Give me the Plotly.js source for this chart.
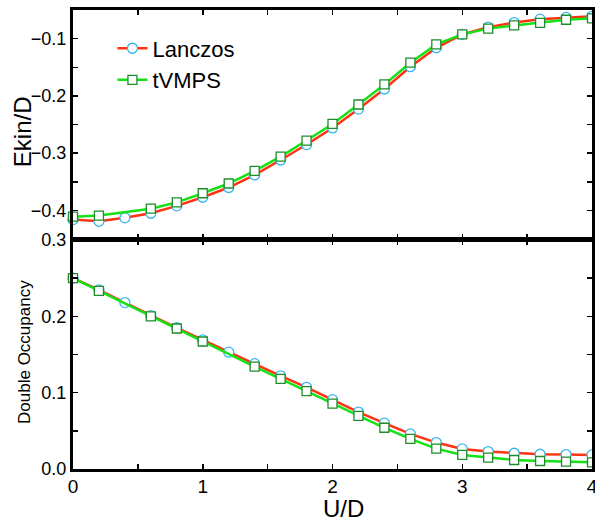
<!DOCTYPE html>
<html>
<head>
<meta charset="utf-8">
<script src="https://cdn.plot.ly/plotly-3.0.1.min.js"></script>
<style>html,body{margin:0;padding:0;background:#fff;}#chart{width:595px;height:525px;}</style>
</head>
<body>
<div id="chart"></div>
<script>
// U/D values
const uLanczos = [0,0.2,0.4,0.6,0.8,1.0,1.2,1.4,1.6,1.8,2.0,2.2,2.4,2.6,2.8,3.0,3.2,3.4,3.6,3.8,4.0];
const uTvmpsEkin = [0,0.2,0.6,0.8,1.0,1.2,1.4,1.6,1.8,2.0,2.2,2.4,2.6,2.8,3.0,3.2,3.4,3.6,3.8,4.0];
const uTvmpsDocc = [0,0.2,0.6,0.8,1.0,1.4,1.6,1.8,2.0,2.2,2.4,2.6,2.8,3.0,3.2,3.4,3.6,3.8,4.0];

// Kinetic energy Ekin/D
const ekinLanczos = [-0.416,-0.419,-0.413,-0.405,-0.392,-0.377,-0.360,-0.338,-0.312,-0.285,-0.256,-0.223,-0.188,-0.149,-0.116,-0.0925,-0.080,-0.072,-0.066,-0.063,-0.061];
const ekinTvmps = [-0.411,-0.409,-0.397,-0.386,-0.370,-0.353,-0.331,-0.306,-0.278,-0.249,-0.215,-0.180,-0.142,-0.110,-0.0925,-0.0825,-0.077,-0.0725,-0.067,-0.0645];

// Double occupancy
const doccLanczos = [0.250,0.2346,0.218,0.201,0.185,0.169,0.153,0.138,0.122,0.107,0.0908,0.0746,0.060,0.046,0.0346,0.0263,0.0228,0.0206,0.0193,0.0189,0.0184];
const doccTvmps = [0.250,0.2333,0.200,0.184,0.167,0.134,0.118,0.102,0.0855,0.0697,0.054,0.0395,0.0267,0.0184,0.0149,0.0118,0.0105,0.0096,0.0088];

// Tick labels
const xTickVals = [0,0.5,1,1.5,2,2.5,3,3.5,4];
const xTickText = ['0','','1','','2','','3','','4'];
const ekinTickVals = [-0.4,-0.35,-0.3,-0.25,-0.2,-0.15,-0.1];
const ekinTickText = ['\u22120.4','','\u22120.3','','\u22120.2','','\u22120.1'];
const doccTickVals = [0,0.05,0.1,0.15,0.2,0.25,0.3];
const doccTickText = ['0.0','','0.1','','0.2','','0.3'];

const redLine = '#ff3311';
const greenLine = '#16e016';
const circleEdge = '#35b6ee';
const squareEdge = '#1e8c2a';
const FONT = 'Liberation Sans, Arial, Helvetica, sans-serif';

const traces = [
  {x: uLanczos, y: ekinLanczos, xaxis:'x2', yaxis:'y2', name:'Lanczos', mode:'lines+markers', cliponaxis:false,
   line:{color:redLine, width:2.5}, marker:{symbol:'circle', size:10, color:'#ffffff', line:{color:circleEdge, width:1.3}}},
  {x: uTvmpsEkin, y: ekinTvmps, xaxis:'x2', yaxis:'y2', name:'tVMPS', mode:'lines+markers', cliponaxis:false,
   line:{color:greenLine, width:2.5}, marker:{symbol:'square', size:9, color:'#ffffff', line:{color:squareEdge, width:1.3}}},
  {x: uLanczos, y: doccLanczos, xaxis:'x', yaxis:'y', name:'Lanczos', showlegend:false, mode:'lines+markers', cliponaxis:false,
   line:{color:redLine, width:2.5}, marker:{symbol:'circle', size:10, color:'#ffffff', line:{color:circleEdge, width:1.3}}},
  {x: uTvmpsDocc, y: doccTvmps, xaxis:'x', yaxis:'y', name:'tVMPS', showlegend:false, mode:'lines+markers', cliponaxis:false,
   line:{color:greenLine, width:2.5}, marker:{symbol:'square', size:9, color:'#ffffff', line:{color:squareEdge, width:1.3}}}
];

const axisCommon = {
  showline:true, linewidth:3, linecolor:'#000', mirror:'ticks',
  ticks:'inside', ticklen:5, tickwidth:1.5, tickcolor:'#000',
  showgrid:false, zeroline:false
};

const layout = {
  width:595, height:525,
  margin:{l:73, r:3, t:10, b:56},
  paper_bgcolor:'#fff', plot_bgcolor:'#fff',
  font:{family:FONT, color:'#000'},
  showlegend:true,
  legend:{x:0.076, y:0.962, xanchor:'left', yanchor:'top', bgcolor:'rgba(0,0,0,0)',
          font:{family:FONT, size:22, color:'#000'}},
  xaxis: Object.assign({}, axisCommon, {range:[0,4], anchor:'y', tickmode:'array', tickvals:xTickVals, ticktext:xTickText,
          tickfont:{family:FONT, size:19}, ticklabeloverflow:'allow', ticklabelstandoff:-2}),
  xaxis2: Object.assign({}, axisCommon, {range:[0,4], anchor:'y2', matches:'x', tickmode:'array', tickvals:xTickVals, showticklabels:false}),
  yaxis: Object.assign({}, axisCommon, {domain:[0,0.499], range:[0,0.3], anchor:'x', tickmode:'array', tickvals:doccTickVals, ticktext:doccTickText,
          tickfont:{family:FONT, size:18}}),
  yaxis2: Object.assign({}, axisCommon, {domain:[0.501,1], range:[-0.45,-0.05], anchor:'x2', tickmode:'array', tickvals:ekinTickVals, ticktext:ekinTickText,
          tickfont:{family:FONT, size:18}}),
  annotations:[
    {text:'Ekin/D', xref:'paper', yref:'paper', x:-0.0983, y:0.736, textangle:-90, showarrow:false, xanchor:'center', yanchor:'middle',
     font:{family:FONT, size:24, color:'#000'}},
    {text:'Double Occupancy', xref:'paper', yref:'paper', x:-0.0925, y:0.255, textangle:-90, showarrow:false, xanchor:'center', yanchor:'middle',
     font:{family:FONT, size:17, color:'#000'}},
    {text:'U/D', xref:'paper', yref:'paper', x:0.522, y:-0.0871, showarrow:false, xanchor:'center', yanchor:'middle',
     font:{family:FONT, size:24, color:'#000'}}
  ]
};

Plotly.newPlot('chart', traces, layout, {staticPlot:true, displayModeBar:false});
</script>
</body>
</html>
